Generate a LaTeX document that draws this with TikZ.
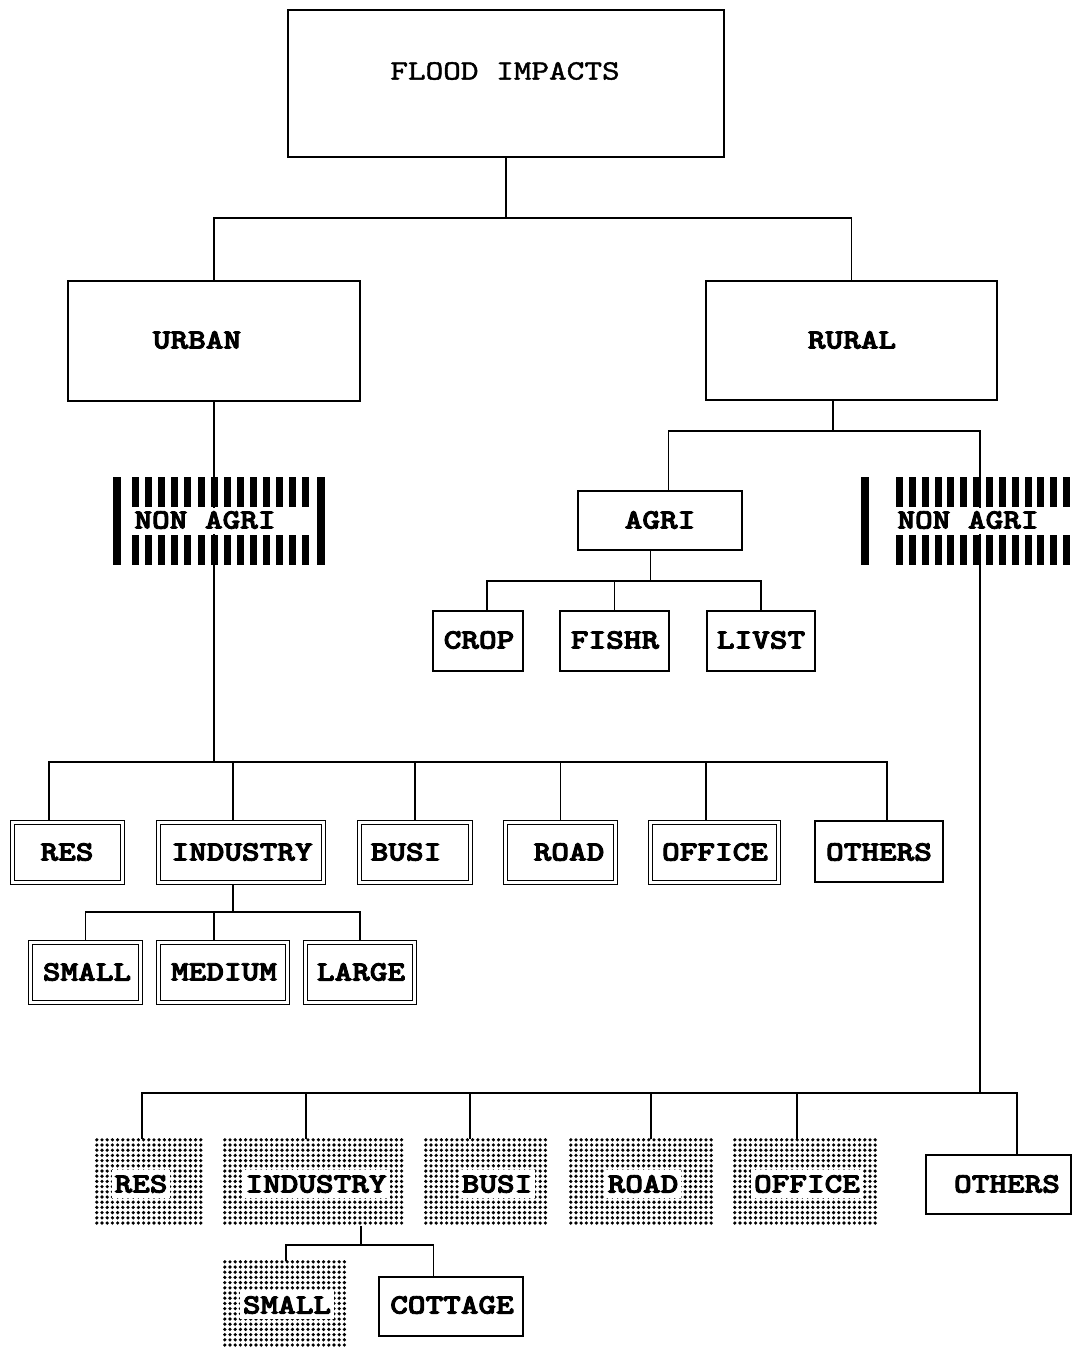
\documentclass[tikz,border=0pt]{standalone}
\usepackage{fontspec}
\newfontfamily\chartfont[FakeBold=1.4]{lmmono10-regular.otf}
\newfontfamily\chartboldfont[FakeBold=3]{lmmonolt10-bold.otf}
\usetikzlibrary{backgrounds}

% typewriter labels are set slightly wide
\newcommand\tx[1]{\scalebox{1.2}[1]{#1}}
% plain box from outer corners
\newcommand\plainbx[5]{\node[plainbox,minimum width={#4-#2-1.8},minimum height={#5-#3-1.8}] (#1) at ({(#2+#4)/2},{(#3+#5)/2}) {};}
% double-ruled box from outer corners
\newcommand\dblbx[5]{\node[dblbox,minimum width={#4-#2-5.4},minimum height={#5-#3-5.4}] (#1) at ({(#2+#4)/2},{(#3+#5)/2}) {};}
% screened box from outer corners: a grid of heavy dots
\newcommand\dotbx[5]{%
  \node[dotbox,minimum width={#4-#2},minimum height={#5-#3}] (#1) at ({(#2+#4)/2},{(#3+#5)/2}) {};
  \pgfmathtruncatemacro\dotnx{(#4-#2-3.6)/5.2}%
  \pgfmathtruncatemacro\dotny{(#5-#3-3.6)/5.2}%
  \fill \foreach \i in {0,...,\dotnx} { \foreach \j in {0,...,\dotny} { ({#2+1.8+5.2*\i},{#3+1.8+5.2*\j}) circle (1.8) } };
}

\begin{document}
\begin{tikzpicture}[x=1pt,y=-1pt,
  conn/.style={line width=1.8pt,line cap=rect},
  plainbox/.style={draw,line width=1.8pt,inner sep=0pt,fill=white},
  dblbox/.style={draw,double,line width=1.4pt,double distance=2.6pt,inner sep=0pt},
  dotbox/.style={inner sep=0pt},
  lbl/.style={inner sep=0pt,font=\chartboldfont\bfseries\fontsize{28}{28}\selectfont},
  lblthin/.style={inner sep=0pt,font=\chartfont\bfseries\fontsize{28}{28}\selectfont},
  dotlbl/.style={lbl,fill=white,inner xsep=3pt,inner ysep=5pt}]

\begin{scope}[on background layer]
\fill[white] (0,0) rectangle (1078,1351);
\end{scope}
\useasboundingbox (0,0) rectangle (1078,1351);

% ---- boxes
\plainbx{flood}{287}{9}{725}{158}
\plainbx{urban}{67}{280}{361}{402}
\plainbx{rural}{705}{280}{998}{401}
\plainbx{agri}{577}{490}{743}{551}
\plainbx{crop}{432}{610}{524}{672}
\plainbx{fishr}{559}{610}{670}{672}
\plainbx{livst}{706}{610}{816}{672}

\dblbx{ures}{10}{820}{125}{885}
\dblbx{uind}{156}{820}{326}{885}
\dblbx{ubus}{357}{820}{473}{885}
\dblbx{uroad}{503}{820}{618}{885}
\dblbx{uoff}{648}{820}{781}{885}
\plainbx{uoth}{814}{820}{944}{883}

\dblbx{usml}{28}{940}{143}{1005}
\dblbx{umed}{156}{940}{290}{1005}
\dblbx{ulrg}{303}{940}{417}{1005}

\dotbx{rres}{95}{1138}{203}{1227}
\dotbx{rind}{223}{1138}{404}{1227}
\dotbx{rbus}{424}{1138}{549}{1227}
\dotbx{rroad}{569}{1138}{714}{1227}
\dotbx{roff}{733}{1138}{878}{1227}
\plainbx{roth}{925}{1154}{1072}{1215}

\dotbx{rsml}{223}{1260}{349}{1351}
\plainbx{rcot}{378}{1276}{524}{1337}

% ---- striped NON AGRI bands
\node[inner sep=0pt,minimum width=212,minimum height=88] (unon) at (219,521) {};
\node[inner sep=0pt,minimum width=211,minimum height=88] (rnon) at (966.5,521) {};

\fill (113,477) rectangle (121,565);
\fill (317,477) rectangle (325,565);
\foreach \i in {0,...,13} {
  \fill ({132+13.1*\i},477) rectangle ++(7,30);
  \fill ({132+13.1*\i},535) rectangle ++(7,30);
}
\fill[white] (122,508) rectangle (316,534);

\fill (861,477) rectangle (869,565);
\foreach \i in {0,...,13} {
  \fill ({896+12.85*\i},477) rectangle ++(7,30);
  \fill ({896+12.85*\i},535) rectangle ++(7,30);
}
\fill[white] (870,508) rectangle (1078,534);

% ---- labels
\node[lblthin] (t-flood) at (505,71) {\tx{FLOOD IMPACTS}};
\node[lbl] (t-urban) at (197,340) {\tx{URBAN}};
\node[lbl] (t-rural) at (852,340) {\tx{RURAL}};
\node[lbl] (t-unon) at (205,520) {\tx{NON AGRI}};
\node[lbl] (t-rnon) at (968,520) {\tx{NON AGRI}};
\node[lbl] (t-agri) at (660,520) {\tx{AGRI}};
\node[lbl] (t-crop) at (479,640) {\tx{CROP}};
\node[lbl] (t-fishr) at (615,640) {\tx{FISHR}};
\node[lbl] (t-livst) at (761,640) {\tx{LIVST}};

\node[lbl] (t-ures) at (67,852) {\tx{RES}};
\node[lbl] (t-uind) at (242,852) {\tx{INDUSTRY}};
\node[lbl] (t-ubus) at (406,852) {\tx{BUSI}};
\node[lbl] (t-uroad) at (569,852) {\tx{ROAD}};
\node[lbl] (t-uoff) at (715,852) {\tx{OFFICE}};
\node[lbl] (t-uoth) at (879,852) {\tx{OTHERS}};

\node[lbl] (t-usml) at (87,972) {\tx{SMALL}};
\node[lbl] (t-umed) at (224,972) {\tx{MEDIUM}};
\node[lbl] (t-ulrg) at (361,972) {\tx{LARGE}};

\node[dotlbl] (t-rres) at (141,1184) {\tx{RES}};
\node[dotlbl] (t-rind) at (316,1184) {\tx{INDUSTRY}};
\node[dotlbl] (t-rbus) at (497,1184) {\tx{BUSI}};
\node[dotlbl] (t-rroad) at (643,1184) {\tx{ROAD}};
\node[dotlbl] (t-roff) at (807,1184) {\tx{OFFICE}};
\node[lbl] (t-roth) at (1007,1184) {\tx{OTHERS}};

\node[dotlbl] (t-rsml) at (287,1305) {\tx{SMALL}};
\node[lbl] (t-rcot) at (452,1305) {\tx{COTTAGE}};

% ---- connectors, kept behind the boxes
\begin{scope}[on background layer]
\coordinate (top) at (0,218);
\coordinate (rsplit) at (0,431);
\coordinate (abar) at (0,581);
\coordinate (ubar) at (0,762);
\coordinate (uibar) at (0,912);
\coordinate (rbar) at (0,1093);
\coordinate (ribar) at (0,1245);

\draw[conn] (flood.south) -- (flood.south |- top) -| (urban.north);
\draw[conn] (flood.south |- top) -| (rural.north);

% urban branch
\draw[conn] (urban.south) -- (urban.south |- unon.north);
\draw[conn] (urban.south |- unon.north) -- (urban.south |- unon.south);
\draw[conn] (urban.south |- unon.south) -- (urban.south |- ubar);
\draw[conn] ([xshift=-18.5]ures.north) |- ([xshift=8]uoth.north |- ubar) -- ([xshift=8]uoth.north);
\foreach \n/\s in {uind/-8,ubus/0,uroad/0,uoff/-8.5}
  \draw[conn] ([xshift=\s]\n.north) -- ([xshift=\s]\n.north |- ubar);

\draw[conn] ([xshift=-8]uind.south) -- ([xshift=-8]uind.south |- uibar);
\draw[conn] (usml.north) |- (ulrg.north |- uibar) -- (ulrg.north);
\draw[conn] ([xshift=-9]umed.north) -- ([xshift=-9]umed.north |- uibar);

% rural branch
\draw[conn] ([xshift=-18.5]rural.south) -- ([xshift=-18.5]rural.south |- rsplit);
\draw[conn] ([xshift=8.5]agri.north) |- ([xshift=13.5]rnon.north |- rsplit) -- ([xshift=13.5]rnon.north);
\draw[conn] ([xshift=13.5]rnon.north) -- ([xshift=13.5]rnon.south);
\draw[conn] ([xshift=13.5]rnon.south) -- ([xshift=13.5]rnon.south |- rbar);

\draw[conn] ([xshift=-9.5]agri.south) -- ([xshift=-9.5]agri.south |- abar);
\draw[conn] ([xshift=9]crop.north) |- (livst.north |- abar) -- (livst.north);
\draw[conn] (fishr.north) -- (fishr.north |- abar);

\draw[conn] ([xshift=-7]rres.north) |- ([xshift=18.5]roth.north |- rbar) -- ([xshift=18.5]roth.north);
\foreach \n/\s in {rind/-7.5,rbus/-16.5,rroad/9.5,roff/-8.5}
  \draw[conn] ([xshift=\s]\n.north) -- ([xshift=\s]\n.north |- rbar);

\draw[conn] ([xshift=47.5]rind.south) -- ([xshift=47.5]rind.south |- ribar);
\draw[conn] (rsml.north) |- ([xshift=-17.5]rcot.north |- ribar) -- ([xshift=-17.5]rcot.north);
\end{scope}

\end{tikzpicture}
\end{document}
